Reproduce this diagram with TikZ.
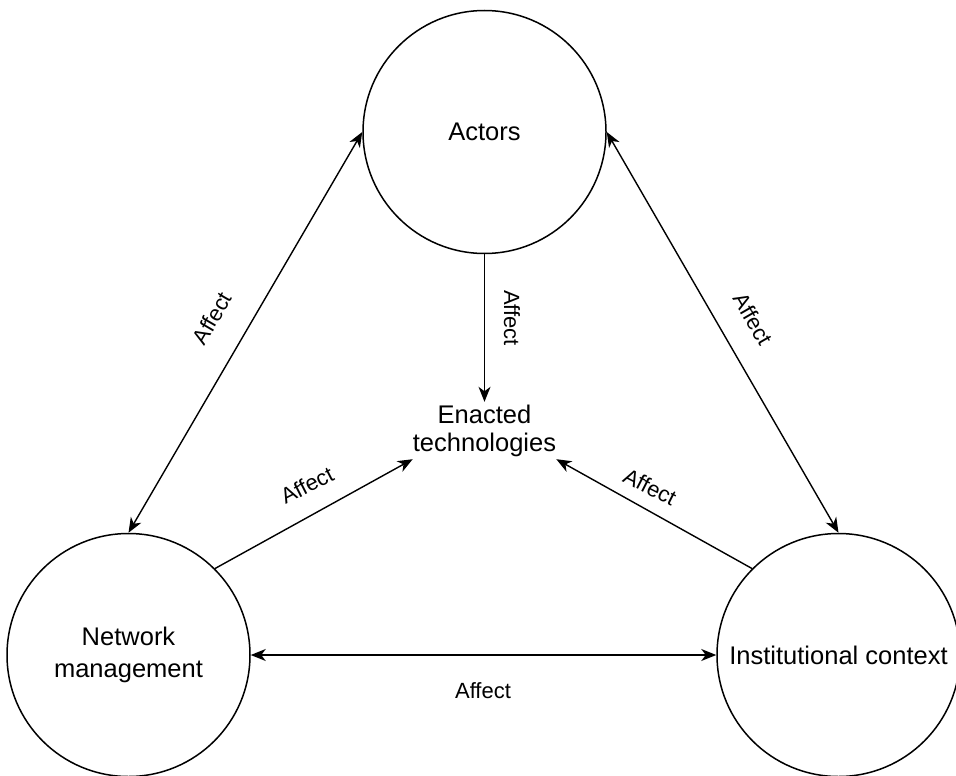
\documentclass[tikz,border=0pt]{standalone}
\usepackage{fontspec}
\setmainfont{Liberation Sans}
\usetikzlibrary{arrows.meta}
\tikzset{
  circ/.style={circle, draw=black, line width=1.5pt, minimum size=243pt, inner sep=0pt, align=center, font=\fontsize{25.5}{32}\selectfont},
  enact/.style={rectangle, draw=none, minimum width=113pt, minimum height=57pt, inner sep=0pt, align=center, font=\fontsize{25.5}{28}\selectfont},
  lbl/.style={font=\fontsize{22}{24}\selectfont, inner sep=1pt},
  conn/.style={line width=1.4pt, draw=black},
  >={Stealth[length=15pt,width=12pt,inset=4.5pt]},
}
\begin{document}
\begin{tikzpicture}[x=1pt,y=-1pt]
\useasboundingbox (0,0) rectangle (956,776);
\node[circ] (act) at (484.5,132) {Actors};
\node[circ] (nm) at (128.5,655) {Network\\management};
\node[circ] (ic) at (838.5,655) {Institutional context};
\node[enact] (en) at (484.5,430.5) {Enacted\\technologies};

\draw[conn, <->] (act.west) -- (nm.north);
\draw[conn, <->] (act.east) -- (ic.north);
\draw[conn, <->] (nm.east) -- (ic.west);
\draw[conn, ->] (act.south) -- (en.north);
\draw[conn, ->] (nm.north east) -- (en.south west);
\draw[conn, ->] (ic.north west) -- (en.south east);

\node[lbl, rotate=59.7] (l1) at (212,318) {Affect};
\node[lbl, rotate=-60] (l2) at (753,319) {Affect};
\node[lbl, rotate=-90] (l3) at (512,318) {Affect};
\node[lbl] (l4) at (483,691) {Affect};
\node[lbl, rotate=27] (l5) at (307,485) {Affect};
\node[lbl, rotate=-27] (l6) at (650,487) {Affect};
\end{tikzpicture}
\end{document}
